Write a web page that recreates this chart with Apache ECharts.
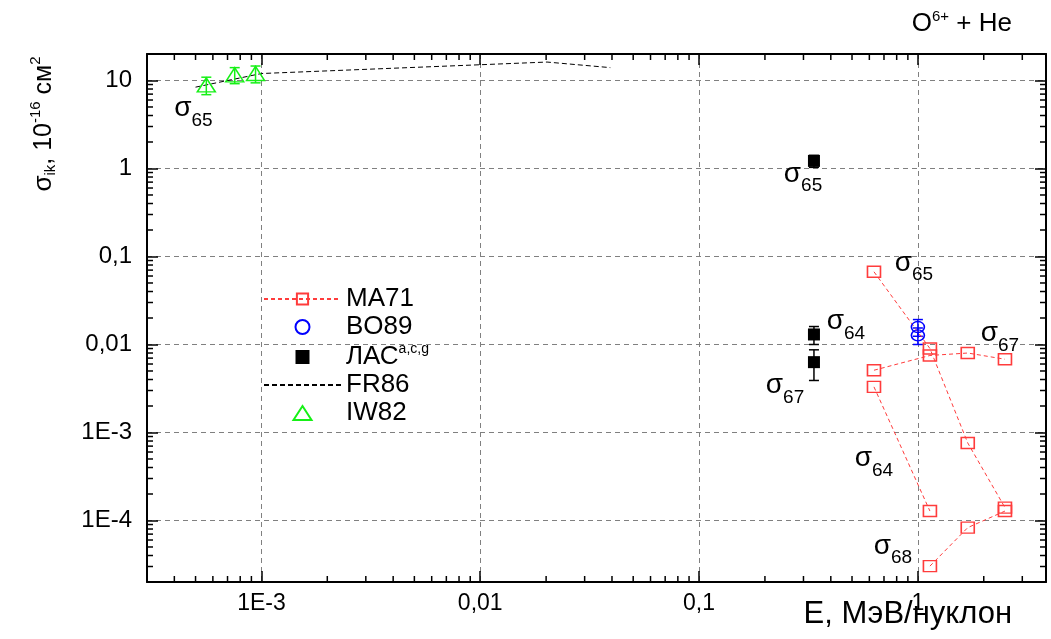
<!DOCTYPE html>
<html>
<head>
<meta charset="utf-8">
<title>O6+ + He</title>
<script src="https://cdn.jsdelivr.net/npm/echarts@6/dist/echarts.min.js"></script>
<style>
  html, body { margin: 0; padding: 0; background: #fff; }
  #chart { width: 1051px; height: 639px; }
</style>
</head>
<body>
<div id="chart"></div>
<script>
  // оси
  var xRange = [3e-4, 3.85];
  var yRange = [2e-5, 20];
  var xTicks = [1e-3, 1e-2, 0.1, 1];
  var xTickText = ['1E-3', '0,01', '0,1', '1'];
  var yTicks = [1e-4, 1e-3, 1e-2, 0.1, 1, 10];
  var yTickText = ['1E-4', '1E-3', '0,01', '0,1', '1', '10'];
  var minorSteps = [2, 3, 4, 5, 6, 7, 8, 9];
  var decades = [1e-5, 1e-4, 1e-3, 1e-2, 0.1, 1, 10];

  // MA71
  var ma71E = [0.63, 1.135, 1.69, 2.5];
  var ma71s65 = [0.067, 0.0090, 7.6e-4, 1.40e-4];
  var ma71s67 = [0.0051, 0.0075, 0.0080, 0.0068];
  var ma71E64 = [0.63, 1.135];
  var ma71s64 = [0.0033, 1.28e-4];
  var ma71E68 = [1.135, 1.69, 2.5];
  var ma71s68 = [3.03e-5, 8.3e-5, 1.28e-4];

  // BO89
  var bo89E = [1.0, 1.0];
  var bo89s = [0.0158, 0.0127];
  var bo89Err = [0.0034, 0.0027];

  // ЛАС
  var lasE = [0.335, 0.335, 0.335];
  var lasS = [1.22, 0.013, 0.0063];
  var lasErr = [0.19, 0.003, 0.0024];

  // FR86
  var fr86E = [5.0e-4, 1.0e-3, 0.01, 0.0202, 0.0393];
  var fr86s = [8.4, 12.0, 15.1, 16.2, 14.0];

  // IW82
  var iw82E = [5.6e-4, 7.55e-4, 9.4e-4];
  var iw82s = [8.9, 11.6, 12.0];
  var iw82Err = [2.0, 2.4, 2.6];

  // подписи сигм
  var sigE = [4.89e-4, 0.2985, 0.959, 0.469, 0.247, 2.37, 0.63, 0.769];
  var sigS = [4.79, 0.87, 0.0841, 0.0183, 0.00342, 0.0134, 5.03e-4, 5.12e-5];
  var sigSub = ['65', '65', '65', '64', '67', '67', '64', '68'];

  var FONT = '"Liberation Sans", Arial, sans-serif';
  var RED = '#ff3c3c', BLUE = '#0000ff', GREEN = '#16f016';
  var NONE = 'rgba(255,255,255,0)';

  function zip(xs, ys, es) {
    return xs.map(function (x, i) { return es ? [x, ys[i], es[i]] : [x, ys[i]]; });
  }

  function labelFor(ticks, texts) {
    return function (v) {
      for (var i = 0; i < ticks.length; i++) {
        if (Math.abs(Math.log10(v) - Math.log10(ticks[i])) < 1e-6) return texts[i];
      }
      return '';
    };
  }

  function minorList(range) {
    var out = [];
    decades.forEach(function (d) {
      minorSteps.forEach(function (m) {
        var v = d * m;
        if (v > range[0] * 1.0001 && v < range[1] / 1.0001) out.push(v);
      });
    });
    return out;
  }

  var tickStyle = { stroke: '#000', lineWidth: 1.5 };

  function xMinorItem(params, api) {
    var p = api.coord([api.value(0), 1]);
    var r = params.coordSys;
    return { type: 'group', children: [
      { type: 'line', shape: { x1: p[0], y1: r.y + r.height, x2: p[0], y2: r.y + r.height - 6 }, style: tickStyle },
      { type: 'line', shape: { x1: p[0], y1: r.y, x2: p[0], y2: r.y + 6 }, style: tickStyle }
    ] };
  }

  function yMinorItem(params, api) {
    var p = api.coord([1, api.value(1)]);
    var r = params.coordSys;
    return { type: 'group', children: [
      { type: 'line', shape: { x1: r.x, y1: p[1], x2: r.x + 6, y2: p[1] }, style: tickStyle },
      { type: 'line', shape: { x1: r.x + r.width, y1: p[1], x2: r.x + r.width - 6, y2: p[1] }, style: tickStyle }
    ] };
  }

  function errItem(color) {
    return function (params, api) {
      var x = api.value(0), y = api.value(1), e = api.value(2);
      var hi = api.coord([x, y + e]);
      var lo = api.coord([x, y - e]);
      var w = 5;
      var st = { stroke: color, lineWidth: 1.5 };
      return { type: 'group', children: [
        { type: 'line', shape: { x1: hi[0], y1: hi[1], x2: lo[0], y2: lo[1] }, style: st },
        { type: 'line', shape: { x1: hi[0] - w, y1: hi[1], x2: hi[0] + w, y2: hi[1] }, style: st },
        { type: 'line', shape: { x1: lo[0] - w, y1: lo[1], x2: lo[0] + w, y2: lo[1] }, style: st }
      ] };
    };
  }

  function axisBase(range) {
    return {
      type: 'log', logBase: 10, min: range[0], max: range[1],
      axisLine: { show: true, onZero: false, lineStyle: { color: '#000', width: 2 } },
      axisTick: { show: true, inside: true, length: 11, lineStyle: { color: '#000', width: 1.5 } },
      minorTick: { show: false },
      minorSplitLine: { show: false }
    };
  }

  var xMain = axisBase(xRange);
  xMain.position = 'bottom';
  xMain.axisLabel = { formatter: labelFor(xTicks, xTickText), fontSize: 23, color: '#000', fontFamily: FONT, margin: 10 };
  xMain.splitLine = { show: true, lineStyle: { color: '#808080', width: 1, type: [5, 4] } };
  var xTop = axisBase(xRange);
  xTop.position = 'top';
  xTop.axisLabel = { show: false };
  xTop.splitLine = { show: false };

  var yMain = axisBase(yRange);
  yMain.position = 'left';
  yMain.axisLabel = { formatter: labelFor(yTicks, yTickText), fontSize: 24, color: '#000', fontFamily: FONT, margin: 15 };
  yMain.splitLine = { show: true, lineStyle: { color: '#808080', width: 1, type: [5, 4] } };
  var yRight = axisBase(yRange);
  yRight.position = 'right';
  yRight.axisLabel = { show: false };
  yRight.splitLine = { show: false };

  function ma71Line(data) {
    return {
      type: 'line', name: 'MA71', data: data,
      symbol: 'rect', symbolSize: [13, 11],
      itemStyle: { color: NONE, borderColor: RED, borderWidth: 1.5, opacity: 1 },
      lineStyle: { color: RED, width: 1, type: [4, 3] },
      z: 5
    };
  }

  var subRich = {
    s: { fontSize: 28, fontFamily: FONT, color: '#000' },
    sub: { fontSize: 19, fontFamily: FONT, color: '#000', padding: [24, 0, 0, 0] }
  };

  var option = {
    animation: false,
    backgroundColor: '#fff',
    textStyle: { fontFamily: FONT },
    title: {
      text: '{t|O}{sup|6+}{t| + He}',
      right: 34, top: 4,
      textStyle: {
        rich: {
          t: { fontSize: 26, fontWeight: 'normal', fontFamily: FONT, color: '#000' },
          sup: { fontSize: 15, fontWeight: 'normal', fontFamily: FONT, color: '#000', padding: [0, 0, 15, 0] }
        }
      }
    },
    grid: { left: 147, right: 5, top: 54, bottom: 57, containLabel: false },
    xAxis: [xMain, xTop],
    yAxis: [yMain, yRight],
    legend: {
      data: [
        { name: 'MA71' },
        { name: 'BO89' },
        { name: 'ЛАС', icon: 'path://M0,0L10,0L10,10L0,10Z' },
        { name: 'FR86' },
        { name: 'IW82', icon: 'path://M9,0L18,14L0,14Z' }
      ],
      orient: 'vertical', left: 258, top: 281,
      itemWidth: 77, itemHeight: 14, itemGap: 2,
      symbolKeepAspect: true,
      selectedMode: false,
      textStyle: {
        fontSize: 26, color: '#000', fontFamily: FONT, padding: [0, 0, 0, 0],
        rich: {
          sup: { fontSize: 14, fontFamily: FONT, color: '#000', padding: [0, 0, 16, 0] }
        }
      },
      formatter: function (name) {
        return name === 'ЛАС' ? name + '{sup|a,c,g}' : name;
      }
    },
    graphic: [
      {
        type: 'text', right: 39, top: 599,
        style: { text: 'E, МэВ/нуклон', fontSize: 31, fontFamily: FONT, fill: '#000' }
      },
      {
        type: 'text', x: 44, y: 124, rotation: Math.PI / 2,
        style: {
          text: '{s|σ}{sub|ik}{t|, 10}{sup|-16}{t| см}{sup|2}',
          align: 'center', verticalAlign: 'middle',
          rich: {
            s: { fontSize: 26, fontFamily: FONT, fill: '#000' },
            t: { fontSize: 25, fontFamily: FONT, fill: '#000' },
            sub: { fontSize: 15, fontFamily: FONT, fill: '#000', padding: [14, 0, 0, 0] },
            sup: { fontSize: 15, fontFamily: FONT, fill: '#000', padding: [0, 0, 16, 0] }
          }
        }
      }
    ],
    series: [
      ma71Line(zip(ma71E, ma71s65)),
      ma71Line(zip(ma71E, ma71s67)),
      ma71Line(zip(ma71E64, ma71s64)),
      ma71Line(zip(ma71E68, ma71s68)),
      {
        type: 'scatter', name: 'BO89', data: zip(bo89E, bo89s),
        symbol: 'circle', symbolSize: [13, 11],
        itemStyle: { color: NONE, borderColor: BLUE, borderWidth: 1.5, opacity: 1 },
        z: 6
      },
      {
        type: 'scatter', name: 'ЛАС', data: zip(lasE, lasS),
        symbol: 'rect', symbolSize: 12,
        itemStyle: { color: '#000', opacity: 1 },
        z: 6
      },
      {
        type: 'line', name: 'FR86', data: zip(fr86E, fr86s),
        symbol: 'none',
        itemStyle: { color: NONE, borderColor: NONE, borderWidth: 0 },
        lineStyle: { color: '#000', width: 1, type: [5, 3] },
        z: 4
      },
      {
        type: 'scatter', name: 'IW82', data: zip(iw82E, iw82s),
        symbol: 'triangle', symbolSize: [18, 14],
        itemStyle: { color: NONE, borderColor: GREEN, borderWidth: 1.5, opacity: 1 },
        z: 6
      },
      { type: 'custom', name: 'errBO', renderItem: errItem(BLUE), data: zip(bo89E, bo89s, bo89Err), encode: { x: 0, y: 1 }, z: 5, silent: true },
      { type: 'custom', name: 'errLAS', renderItem: errItem('#000'), data: zip(lasE, lasS, lasErr), encode: { x: 0, y: 1 }, z: 5, silent: true },
      { type: 'custom', name: 'errIW', renderItem: errItem(GREEN), data: zip(iw82E, iw82s, iw82Err), encode: { x: 0, y: 1 }, z: 5, silent: true },
      {
        type: 'custom', name: 'xMinor', renderItem: xMinorItem, silent: true, z: 3,
        data: minorList(xRange).map(function (v) { return [v, 1]; }), encode: { x: 0, y: 1 }
      },
      {
        type: 'custom', name: 'yMinor', renderItem: yMinorItem, silent: true, z: 3,
        data: minorList(yRange).map(function (v) { return [1, v]; }), encode: { x: 0, y: 1 }
      },
      {
        type: 'scatter', name: 'sigmaLabels', silent: true, symbolSize: 0, z: 8,
        itemStyle: { opacity: 1 },
        data: sigE.map(function (x, i) { return { value: [x, sigS[i]], sub: sigSub[i] }; }),
        label: {
          show: true, position: 'inside', color: '#000', opacity: 1,
          formatter: function (p) { return '{s|σ}{sub|' + p.data.sub + '}'; },
          rich: subRich
        }
      }
    ]
  };

  var myChart = echarts.init(document.getElementById('chart'), null, { renderer: 'canvas' });
  myChart.setOption(option);
</script>
</body>
</html>
